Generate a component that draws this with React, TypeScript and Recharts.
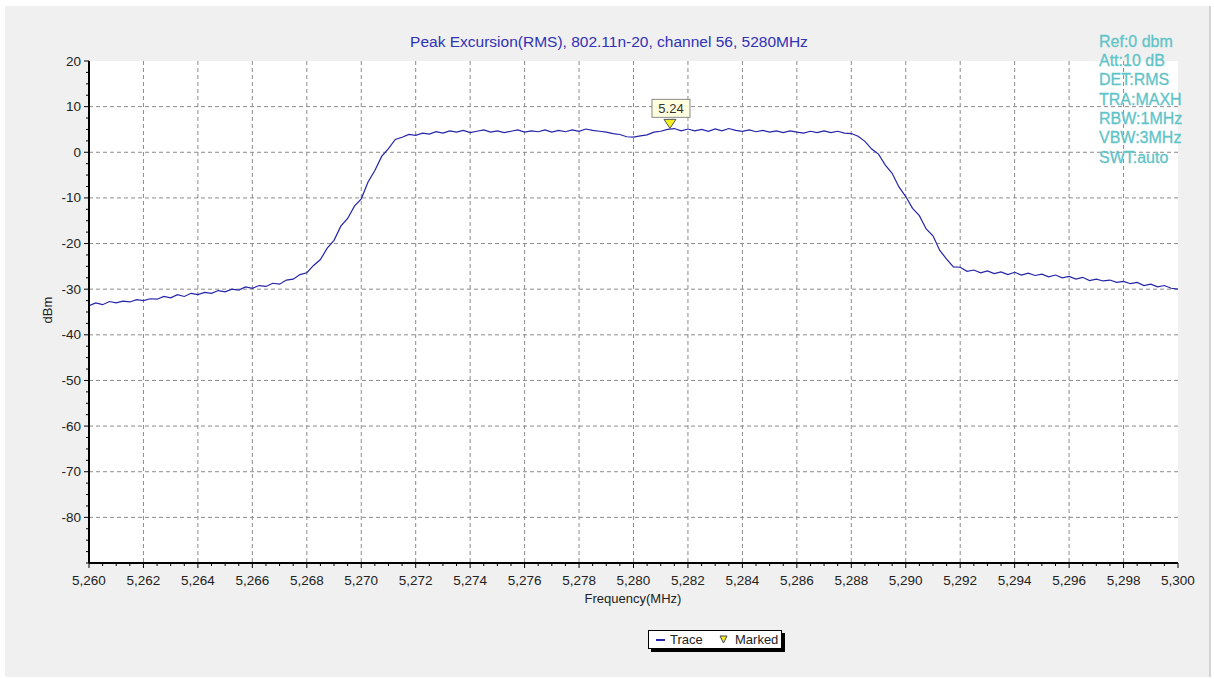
import React from 'react';
import { ComposedChart, Line, Scatter, XAxis, YAxis, CartesianGrid, Legend } from 'recharts';

// Sweep: 5260 MHz to 5300 MHz, one reading every 0.25 MHz
const FREQ_START = 5260;
const FREQ_STEP = 0.25;
const traceLevels = [
  -33.6, -33.0, -33.4, -32.7, -33.0, -32.6, -32.8, -32.3, -32.5, -32.1,
  -32.2, -31.6, -31.9, -31.2, -31.6, -30.9, -31.2, -30.7, -30.9, -30.3,
  -30.6, -30.0, -30.2, -29.5, -29.8, -29.2, -29.4, -28.7, -28.9, -28.0,
  -27.8, -26.8, -26.4, -24.8, -23.5, -21.0, -19.3, -16.2, -14.5, -11.8,
  -10.2, -6.5, -4.0, -0.9, 0.8, 2.8, 3.3, 3.9, 3.7, 4.2,
  4.0, 4.5, 4.2, 4.7, 4.4, 4.8, 4.3, 4.6, 4.9, 4.4,
  4.7, 4.3, 4.6, 4.9, 4.4, 4.7, 4.5, 4.9, 4.4, 4.8,
  4.5, 4.9, 4.6, 5.1, 4.8, 4.6, 4.4, 4.1, 3.9, 3.4,
  3.3, 3.6, 3.8, 4.4, 4.6, 5.0, 5.2, 4.7, 5.1, 4.7,
  5.0, 4.6, 5.1, 4.7, 5.2, 4.8, 4.6, 4.9, 4.5, 4.8,
  4.4, 4.7, 4.3, 4.7, 4.4, 4.2, 4.6, 4.3, 4.7, 4.3,
  4.6, 4.2, 4.1, 3.5, 2.4, 0.7, -0.4, -2.8, -4.6, -7.6,
  -9.7, -12.3, -13.9, -16.8, -18.3, -21.5, -23.4, -25.1, -25.2, -26.1,
  -25.8, -26.4, -26.0, -26.6, -26.2, -26.8, -26.3, -26.9, -26.5, -27.0,
  -26.7, -27.3, -26.9, -27.5, -27.2, -27.8, -27.4, -28.1, -27.8, -28.2,
  -28.0, -28.5, -28.3, -28.8, -28.5, -29.2, -28.9, -29.5, -29.2, -29.8,
  -30.0,
];

const markerFreqs = [5281.34];
const markerLevels = [5.24];

const X_DOMAIN = [5260, 5300];
const Y_DOMAIN = [-90, 20];
const xMajorTicks = [5260, 5262, 5264, 5266, 5268, 5270, 5272, 5274, 5276, 5278, 5280, 5282, 5284, 5286, 5288, 5290, 5292, 5294, 5296, 5298, 5300];
const yMajorTicks = [20, 10, 0, -10, -20, -30, -40, -50, -60, -70, -80];
const xGridValues = xMajorTicks.slice(1, -1);
const yGridValues = yMajorTicks.slice(1);

const titleText = 'Peak Excursion(RMS), 802.11n-20, channel 56, 5280MHz';
const infoLines = ['Ref:0 dbm', 'Att:10 dB', 'DET:RMS', 'TRA:MAXH', 'RBW:1MHz', 'VBW:3MHz', 'SWT:auto'];
const xTitle = 'Frequency(MHz)';
const yTitle = 'dBm';
const legendNames = ['Trace', 'Marked'];

const traceData = traceLevels.map((v, i) => ({ f: FREQ_START + i * FREQ_STEP, v }));
const markerData = markerFreqs.map((f, i) => ({ f, v: markerLevels[i] }));

const xMinorTicks: number[] = [];
for (let t = 5260; t <= 5300.001; t += 0.5) xMinorTicks.push(Math.round(t * 10) / 10);
const yMinorTicks: number[] = [];
for (let t = -90; t <= 20.001; t += 2.5) yMinorTicks.push(t);

const FONT = '"Liberation Sans", Arial, sans-serif';
const TRACE_COLOR = '#2424a8';

const XTick = (props: any) => {
  const { x, y, payload } = props;
  const v = payload.value;
  const major = Math.abs(v / 2 - Math.round(v / 2)) < 1e-6;
  return (
    <g>
      <line x1={x} x2={x} y1={y} y2={y + (major ? 5 : 3)} stroke="#000" strokeWidth={1} />
      {major && (
        <text x={x} y={y + 22} textAnchor="middle" fontSize={13.5} fill="#222" fontFamily={FONT}>
          {v.toLocaleString('en-US')}
        </text>
      )}
    </g>
  );
};

const YTick = (props: any) => {
  const { x, y, payload } = props;
  const v = payload.value;
  const major = Math.abs(v / 10 - Math.round(v / 10)) < 1e-6 && v !== -90;
  return (
    <g>
      <line x1={x - (major ? 5 : 3)} x2={x} y1={y} y2={y} stroke="#000" strokeWidth={1} />
      {major && (
        <text x={x - 8} y={y + 4.5} textAnchor="end" fontSize={13.5} fill="#222" fontFamily={FONT}>
          {v}
        </text>
      )}
    </g>
  );
};

const MarkerShape = (props: any) => {
  const { cx, cy, payload } = props;
  return (
    <g>
      <rect x={cx - 18} y={cy - 29} width={38} height={18} fill="#ffffe0" stroke="#8a8a8a" strokeWidth={1} />
      <text x={cx + 1} y={cy - 15} textAnchor="middle" fontSize={13} fill="#333" fontFamily={FONT}>
        {payload.v.toFixed(2)}
      </text>
      <polygon points={`${cx - 6},${cy - 9} ${cx + 6},${cy - 9} ${cx},${cy}`} fill="#f2f020" stroke="#555" strokeWidth={1} />
    </g>
  );
};

const LegendBox = () => (
  <div
    style={{
      width: 134,
      height: 19,
      boxSizing: 'border-box',
      border: '1px solid #000',
      background: '#fff',
      boxShadow: '3px 3px 0 #000',
      fontFamily: FONT,
      fontSize: 13,
      color: '#222',
      position: 'relative',
    }}
  >
    <div style={{ position: 'absolute', left: 7, top: 8, width: 9, height: 1.5, background: TRACE_COLOR }} />
    <span style={{ position: 'absolute', left: 21, top: 0, lineHeight: '17px' }}>{legendNames[0]}</span>
    <svg style={{ position: 'absolute', left: 70, top: 4 }} width={9} height={9}>
      <polygon points="1,1 8,1 4.5,8" fill="#f2f020" stroke="#444" strokeWidth={1} />
    </svg>
    <span style={{ position: 'absolute', left: 86, top: 0, lineHeight: '17px' }}>{legendNames[1]}</span>
  </div>
);

const mapX = (v: number, offset: any, xAxis: any) =>
  xAxis && typeof xAxis.scale === 'function'
    ? xAxis.scale(v)
    : offset.left + ((v - X_DOMAIN[0]) / (X_DOMAIN[1] - X_DOMAIN[0])) * offset.width;
const mapY = (v: number, offset: any, yAxis: any) =>
  yAxis && typeof yAxis.scale === 'function'
    ? yAxis.scale(v)
    : offset.top + ((Y_DOMAIN[1] - v) / (Y_DOMAIN[1] - Y_DOMAIN[0])) * offset.height;

export default function App() {
  return (
    <div style={{ position: 'fixed', left: 0, top: 0, width: 1214, height: 679, background: '#fff', overflow: 'hidden' }}>
      <div style={{ position: 'absolute', left: 5, top: 6, width: 1204, height: 671, background: '#f0f0f0', borderRight: '2px solid #d4d4d4' }} />
      <div style={{ position: 'absolute', left: 0, top: 0 }}>
        <ComposedChart width={1214} height={679} margin={{ top: 61, right: 36, bottom: 76, left: 29 }}>
          <CartesianGrid
            stroke="#8c8c8c"
            strokeDasharray="4 3"
            fill="#fff"
            fillOpacity={1}
            horizontalCoordinatesGenerator={({ yAxis, offset }: any) => yGridValues.map((v) => mapY(v, offset, yAxis))}
            verticalCoordinatesGenerator={({ xAxis, offset }: any) => xGridValues.map((v) => mapX(v, offset, xAxis))}
          />
          <XAxis
            dataKey="f"
            type="number"
            domain={X_DOMAIN}
            ticks={xMinorTicks}
            interval={0}
            tickSize={0}
            tickMargin={0}
            tickLine={false}
            tick={<XTick />}
            axisLine={{ stroke: '#000', strokeWidth: 2 }}
            height={40}
            allowDataOverflow
          />
          <YAxis
            dataKey="v"
            type="number"
            domain={Y_DOMAIN}
            ticks={yMinorTicks}
            interval={0}
            tickSize={0}
            tickMargin={0}
            tickLine={false}
            tick={<YTick />}
            axisLine={{ stroke: '#000', strokeWidth: 2 }}
            width={60}
            allowDataOverflow
          />
          <Legend
            verticalAlign="middle"
            align="center"
            layout="horizontal"
            content={() => <LegendBox />}
            wrapperStyle={{ position: 'absolute', left: 648, top: 630, width: 134, height: 19 }}
          />
          <Line
            data={traceData}
            dataKey="v"
            type="linear"
            stroke={TRACE_COLOR}
            strokeWidth={1.2}
            dot={false}
            isAnimationActive={false}
            name={legendNames[0]}
          />
          <Scatter data={markerData} dataKey="v" shape={<MarkerShape />} isAnimationActive={false} name={legendNames[1]} />
        </ComposedChart>
      </div>
      <svg style={{ position: 'absolute', left: 0, top: 0, pointerEvents: 'none' }} width={1214} height={679}>
        <text x={609} y={47} textAnchor="middle" fontSize={15.5} fill="#3030b8" fontFamily={FONT}>
          {titleText}
        </text>
        {infoLines.map((t, i) => (
          <text key={t} x={1099} y={46.7 + i * 19.3} fontSize={16} fill="#5fc4c8" stroke="#5fc4c8" strokeWidth={0.3} fontFamily={FONT}>
            {t}
          </text>
        ))}
        <text x={633} y={603} textAnchor="middle" fontSize={13} fill="#222" fontFamily={FONT}>
          {xTitle}
        </text>
        <text x={52} y={310} textAnchor="middle" fontSize={13} fill="#222" fontFamily={FONT} transform="rotate(-90 52 310)">
          {yTitle}
        </text>
      </svg>
    </div>
  );
}
